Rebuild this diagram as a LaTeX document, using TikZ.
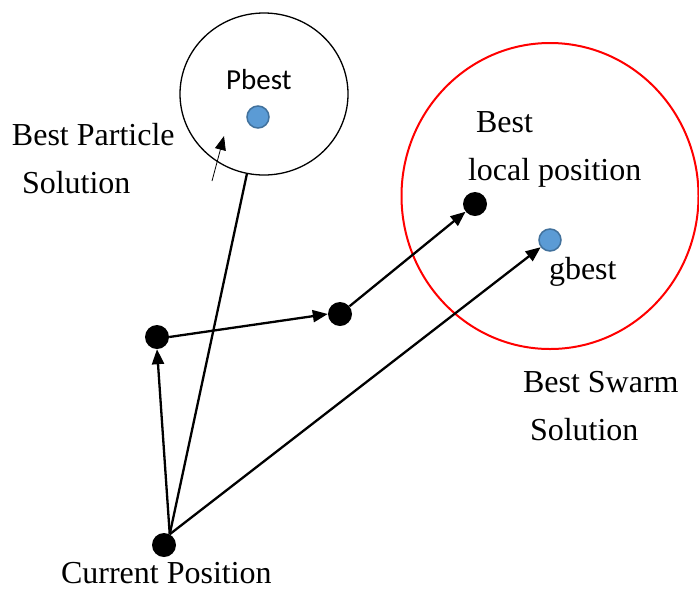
\documentclass[tikz,border=0pt]{standalone}
\usepackage{fontspec}
\setmainfont{Liberation Serif}
\newfontfamily\calib{Carlito}
\usetikzlibrary{arrows.meta,shapes.geometric}
\definecolor{dotblue}{HTML}{5B9BD5}
\definecolor{dotedge}{HTML}{41719C}
\tikzset{
  lbl/.style={anchor=base west,inner sep=0pt,outer sep=0pt,font=\fontsize{32}{36}\selectfont},
  bdot/.style={circle,fill=black,minimum width=23pt,minimum height=24pt,inner sep=0pt},
  gdot/.style={circle,fill=dotblue,draw=dotedge,line width=1.5pt,minimum size=22pt,inner sep=0pt},
  conn/.style={line width=2.3pt,-{Triangle[length=15pt,width=12pt]}},
}
\begin{document}
\begin{tikzpicture}[x=1pt,y=-1pt]
\useasboundingbox (0,0) rectangle (699,590);
% regions
\node[ellipse,draw=black,line width=1.3pt,minimum width=168pt,minimum height=162pt] (pc) at (264,94) {};
\node[ellipse,draw=red,line width=2pt,minimum width=297pt,minimum height=306pt] (rc) at (550,196) {};
% dots
\node[bdot] (cur) at (164,545) {};
\node[bdot] (A) at (157,337) {};
\node[bdot] (B) at (340,314) {};
\node[bdot] (C) at (475,204) {};
\node[gdot] (pb) at (258,117) {};
\node[gdot] (gb) at (550,240) {};
% connectors
\draw[line width=2.3pt] (cur.62) -- (pc);
\draw[conn] (cur.62) -- (A.south);
\draw[conn] (A.east) -- (B.west);
\draw[conn] (B) -- (C);
\draw[conn] (cur.62) -- (gb);
\coordinate (t0) at (212,181);
\coordinate (t1) at (224,136);
\draw[line width=0.8pt,-{Triangle[length=14pt,width=11pt]}] (t0) -- (t1);
% labels
\node[anchor=base west,inner sep=0pt,font=\calib\fontsize{29}{34}\selectfont] (lp) at (226,89) {Pbest};
\node[lbl] (l1) at (12,145) {Best Particle};
\node[lbl] (l2) at (22,193) {Solution};
\node[lbl] (l3) at (476,132) {Best};
\node[lbl] (l4) at (468,180) {local position};
\node[lbl] (l5) at (549,279) {gbest};
\node[lbl] (l6) at (523,392) {Best Swarm};
\node[lbl] (l7) at (530,440) {Solution};
\node[lbl] (l8) at (61,583) {Current Position};
\end{tikzpicture}
\end{document}
